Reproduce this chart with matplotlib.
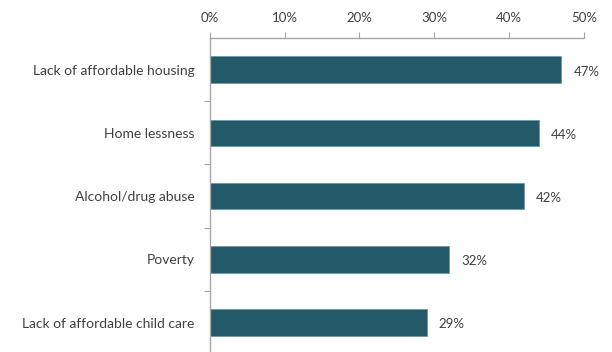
import numpy as np
import matplotlib.pyplot as plt
from matplotlib.ticker import FixedLocator, PercentFormatter

issues = ["Lack of affordable housing", "Home lessness", "Alcohol/drug abuse",
          "Poverty", "Lack of affordable child care"]
shares = [47, 44, 42, 32, 29]
ticks = [0, 10, 20, 30, 40, 50]

plt.rcParams['font.family'] = ['Lato', 'DejaVu Sans']
bar_color = '#225a69'
text_color = '#404040'
axis_color = '#a6a6a6'

fig = plt.figure(figsize=(6.12, 3.52), dpi=100)
ax = fig.add_axes([0.343, -0.006, 0.611, 0.898])

y = np.arange(len(issues))
ax.barh(y, shares, height=0.42, color=bar_color, edgecolor='#6f97a2', linewidth=0.6)
for yi, v in zip(y, shares):
    ax.text(v + 1.6, yi + 0.03, f"{v}%", va='center', ha='left', fontsize=9.5, color=text_color)

ax.set_xlim(0, 50)
ax.set_ylim(len(issues) - 0.5, -0.5)
ax.set_xticks(ticks)
ax.xaxis.set_major_formatter(PercentFormatter(decimals=0))
ax.xaxis.tick_top()
ax.tick_params(axis='x', direction='out', length=4, color=axis_color, labelsize=9.5,
               labelcolor=text_color, pad=6)

# category separators as major ticks, labels on minor ticks
ax.yaxis.set_major_locator(FixedLocator(np.arange(0.5, len(issues) - 1, 1)))
ax.yaxis.set_major_formatter(plt.NullFormatter())
ax.yaxis.set_minor_locator(FixedLocator(y))
ax.set_yticklabels(issues, minor=True)
ax.tick_params(axis='y', which='major', direction='out', length=4, color=axis_color)
ax.tick_params(axis='y', which='minor', length=0, labelsize=10, labelcolor=text_color, pad=11)

for side in ['right', 'bottom']:
    ax.spines[side].set_visible(False)
for side in ['left', 'top']:
    ax.spines[side].set_color(axis_color)
    ax.spines[side].set_linewidth(1)

fig.savefig('out.png', dpi=100)
